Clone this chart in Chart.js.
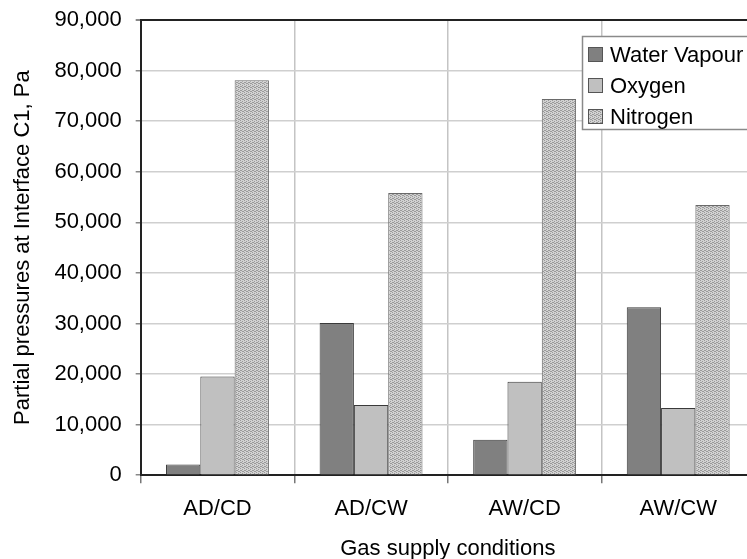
<!DOCTYPE html>
<html>
<head>
<meta charset="utf-8">
<script src="https://cdn.jsdelivr.net/npm/chart.js@4.4.0/dist/chart.umd.min.js"></script>
<style>
  html, body { margin: 0; padding: 0; background: #fff; overflow: hidden; }
  #wrap { width: 756px; height: 559px; position: relative; }
</style>
</head>
<body>
<div id="wrap"><canvas id="c"></canvas></div>
<script>
// Gas supply conditions on the x axis
const categories = ['AD/CD', 'AD/CW', 'AW/CD', 'AW/CW'];
// Partial pressures (Pa) at interface C1
const waterVapour = [2100, 30100, 7000, 33200];
const oxygen = [19500, 13900, 18500, 13300];
const nitrogen = [78100, 55800, 74400, 53400];
const seriesNames = ['Water Vapour', 'Oxygen', 'Nitrogen'];
const yTicks = [0, 10000, 20000, 30000, 40000, 50000, 60000, 70000, 80000, 90000];

const FONT = '"Liberation Sans", Arial, Helvetica, sans-serif';
const FS = 22;

// Fine stipple fill used for the nitrogen bars
function makeStipple() {
  const p = document.createElement('canvas');
  p.width = 4; p.height = 4;
  const g = p.getContext('2d');
  g.fillStyle = '#d2d2d2';
  g.fillRect(0, 0, 4, 4);
  g.fillStyle = '#9a9a9a';
  [[0,0],[2,1],[1,2],[3,3],[2,3],[0,2]].forEach(([x, y]) => g.fillRect(x, y, 1, 1));
  return g.createPattern(p, 'repeat');
}
const stipple = makeStipple();

const fills = ['#808080', '#c0c0c0', stipple];
const borders = ['#3a3a3a', '#3a3a3a', '#6a6a6a'];

// Boxed legend drawn inside the plot area, top right
const boxLegend = {
  id: 'boxLegend',
  afterDraw(chart) {
    const { ctx, chartArea } = chart;
    const x0 = Math.round(chartArea.right - 173);
    const y0 = Math.round(chartArea.top + 16);
    const w = 200, h = 93;
    ctx.save();
    ctx.fillStyle = '#ffffff';
    ctx.fillRect(x0, y0, w, h);
    ctx.strokeStyle = '#8a8a8a';
    ctx.lineWidth = 1.5;
    ctx.strokeRect(x0 + 0.5, y0 + 0.5, w, h);
    ctx.font = FS + 'px ' + FONT;
    ctx.textBaseline = 'middle';
    ctx.lineWidth = 1;
    chart.data.datasets.forEach((ds, i) => {
      const cy = y0 + 18 + i * 31;
      ctx.fillStyle = ds.backgroundColor;
      ctx.fillRect(x0 + 6, cy - 7, 15, 15);
      ctx.strokeStyle = '#555555';
      ctx.strokeRect(x0 + 6.5, cy - 6.5, 14, 14);
      ctx.fillStyle = '#000000';
      ctx.fillText(ds.label, x0 + 28, cy + 2);
    });
    ctx.restore();
  }
};

const data = {
  labels: categories,
  datasets: [waterVapour, oxygen, nitrogen].map((vals, i) => ({
    label: seriesNames[i],
    data: vals,
    backgroundColor: fills[i],
    borderColor: borders[i],
    borderWidth: 1,
    barPercentage: 1.0,
    categoryPercentage: 0.67
  }))
};

new Chart(document.getElementById('c'), {
  type: 'bar',
  data,
  plugins: [boxLegend],
  options: {
    responsive: true,
    maintainAspectRatio: false,
    animation: false,
    layout: { padding: { top: 0, right: 1, left: 4, bottom: -3 } },
    plugins: {
      legend: { display: false },
      tooltip: { enabled: false }
    },
    scales: {
      x: {
        offset: true,
        grid: {
          offset: true,
          color: '#c4c4c4',
          tickColor: '#777777',
          tickLength: 8,
          lineWidth: 1.5
        },
        border: { color: '#222222', width: 2 },
        ticks: { color: '#000', font: { family: FONT, size: FS }, padding: 13 },
        title: {
          display: true,
          text: 'Gas supply conditions',
          color: '#000',
          font: { family: FONT, size: FS },
          padding: { top: 0, bottom: 0 }
        }
      },
      y: {
        min: 0,
        max: 90000,
        afterBuildTicks(axis) { axis.ticks = yTicks.map(v => ({ value: v })); },
        // room above the plot: just enough for the top tick label
        afterFit(axis) { axis.paddingTop = 20; },
        grid: {
          color: ctx => (ctx.tick && ctx.tick.value === 90000) ? '#222222' : '#cfcfcf',
          lineWidth: ctx => (ctx.tick && ctx.tick.value === 90000) ? 2 : 1.5,
          tickColor: '#888888',
          tickLength: 5
        },
        border: { color: '#222222', width: 2 },
        ticks: {
          color: '#000',
          font: { family: FONT, size: FS },
          padding: 14,
          callback: v => Number(v).toLocaleString('en-US')
        },
        title: {
          display: true,
          text: 'Partial pressures at Interface C1, Pa',
          color: '#000',
          font: { family: FONT, size: FS },
          padding: { top: 6, bottom: 4 }
        }
      }
    }
  }
});
</script>
</body>
</html>
